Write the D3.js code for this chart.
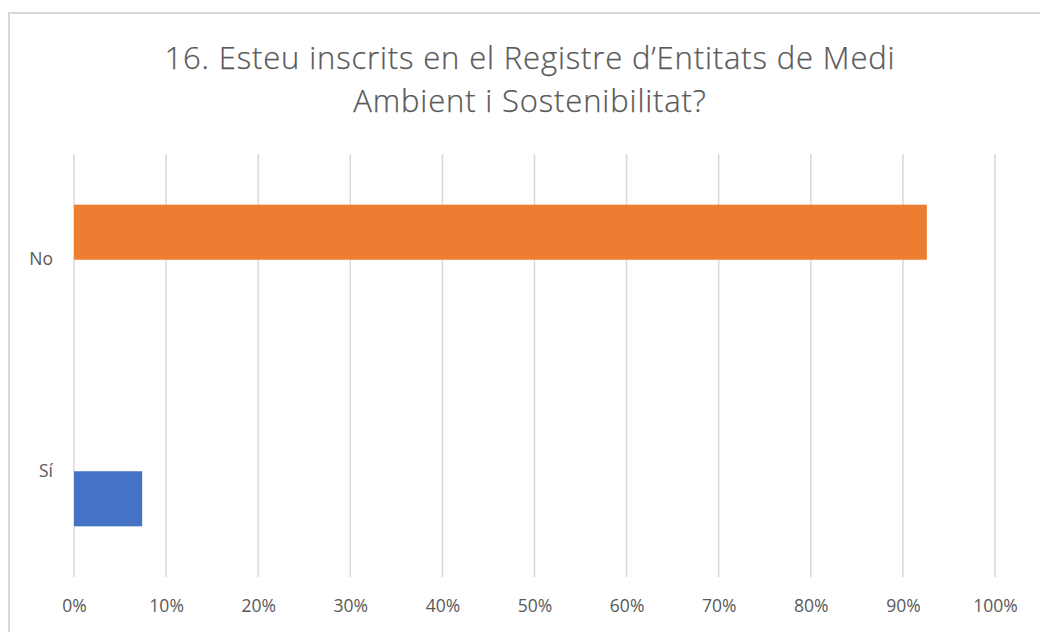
<!DOCTYPE html>
<html>
<head>
<meta charset="utf-8">
<script src="https://cdn.jsdelivr.net/npm/d3@7/dist/d3.min.js"></script>
<style>
  html, body { margin: 0; padding: 0; background: #fff; }
  svg { display: block; }
</style>
</head>
<body>
<svg id="chart" width="1040" height="632"></svg>
<script>
// Survey answers (share of respondents), one series per answer
const titleLines = ["16. Esteu inscrits en el Registre d\u2019Entitats de Medi", "Ambient i Sostenibilitat?"];
const categories = ["Sí", "No"];          // bottom to top
const seriesNames = ["Sí", "No"];
const seriesSi = [7.4, 0];
const seriesNo = [0, 92.6];
const seriesColors = ["#4472C4", "#ED7D31"];
const tickValues = [0, 10, 20, 30, 40, 50, 60, 70, 80, 90, 100];

const svg = d3.select("#chart");
const W = 1040, H = 632;

// Outer frame of the chart area
svg.append("rect")
  .attr("x", 9).attr("y", 13)
  .attr("width", W + 10).attr("height", H + 10)
  .attr("fill", "#fff")
  .attr("stroke", "#D9D9D9").attr("stroke-width", 2);

// Title
const title = svg.append("text")
  .attr("text-anchor", "middle")
  .attr("font-family", "'Open Sans', sans-serif")
  .attr("font-weight", 300)
  .attr("font-size", 31)
  .attr("letter-spacing", 0.85)
  .attr("stroke", "#595959")
  .attr("stroke-width", 0.25)
  .attr("fill", "#595959");
titleLines.forEach((line, i) => {
  title.append("tspan")
    .attr("x", 530)
    .attr("y", 69 + i * 43)
    .text(line);
});

const plot = { left: 74, right: 995, top: 154, bottom: 577 };

const x = d3.scaleLinear().domain([0, 100]).range([plot.left, plot.right]);
const y = d3.scaleBand().domain(categories).range([plot.bottom, plot.top]).paddingInner(0).paddingOuter(0);
// Two clustered series per category; the first series sits lowest
const inner = d3.scaleBand().domain(seriesNames.slice().reverse())
  .range([0, y.bandwidth()]).paddingInner(0).paddingOuter(0.92);

// Vertical gridlines
svg.append("g")
  .selectAll("line")
  .data(tickValues)
  .join("line")
  .attr("x1", d => x(d)).attr("x2", d => x(d))
  .attr("y1", plot.top).attr("y2", plot.bottom)
  .attr("stroke", "#D9D9D9").attr("stroke-width", 1.5);

// Bars
const seriesData = [seriesSi, seriesNo];
seriesNames.forEach((name, si) => {
  svg.append("g")
    .selectAll("rect")
    .data(categories.map((c, ci) => ({ cat: c, value: seriesData[si][ci] })))
    .join("rect")
    .attr("x", x(0))
    .attr("y", d => y(d.cat) + inner(name))
    .attr("width", d => x(d.value) - x(0))
    .attr("height", inner.bandwidth())
    .attr("fill", seriesColors[si]);
});

// Bottom axis labels
const xAxis = d3.axisBottom(x)
  .tickValues(tickValues)
  .tickFormat(d => d + "%")
  .tickSize(0)
  .tickPadding(0);
const gx = svg.append("g")
  .attr("transform", `translate(0, ${plot.bottom + 23})`)
  .call(xAxis);
gx.select(".domain").remove();
gx.selectAll("text")
  .attr("font-family", "'Open Sans', sans-serif")
  .attr("font-size", 17.5)
  .attr("fill", "#595959");

// Category labels
const yAxis = d3.axisLeft(y).tickSize(0).tickPadding(0);
const gy = svg.append("g")
  .attr("transform", `translate(${plot.left - 21}, 0)`)
  .call(yAxis);
gy.select(".domain").remove();
gy.selectAll("text")
  .attr("font-family", "'Open Sans', sans-serif")
  .attr("font-size", 17.5)
  .attr("fill", "#595959");
</script>
</body>
</html>
